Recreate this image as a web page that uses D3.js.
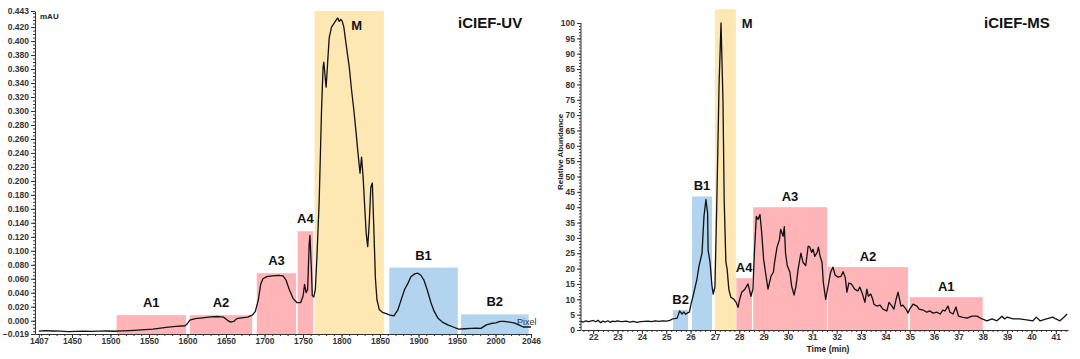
<!DOCTYPE html>
<html><head><meta charset="utf-8">
<script src="https://cdn.jsdelivr.net/npm/d3@7"></script>
<style>
body{margin:0;background:#fff;}
svg{display:block;font-family:"Liberation Sans",Arial,sans-serif;}
.tick text{font-size:8.5px;font-weight:bold;fill:#333;}
.domain,.tick line{stroke:#333;}
</style></head><body>
<svg id="c" width="1080" height="359"></svg>
<script>
// ---------- iCIEF-UV data ----------
const uvPixel = [1407,1415,1425,1435,1445,1455,1465,1475,1485,1495,1505,1515,1525,1535,1545,1555,1565,1575,1585,1597,1600,1603,1610,1620,1630,1640,1647,1652,1656,1660,1664,1670,1678,1684,1688,1692,1695,1698,1703,1710,1718,1724,1728,1732,1737,1742,1747,1750,1752,1754,1756,1758,1759,1761,1762,1764,1766,1768,1771,1774,1776,1777,1779,1780,1782,1784,1787,1790,1793,1795,1797,1799,1801,1803,1806,1810,1813,1816,1819,1821,1824,1826,1828,1830,1832,1834,1836,1838,1840,1842,1844,1846,1849,1853,1858,1863,1868,1873,1878,1882,1886,1890,1895,1899,1903,1907,1911,1916,1920,1925,1931,1938,1945,1952,1960,1968,1975,1981,1988,1994,2000,2006,2011,2018,2024,2030,2036,2046];
const uvAbs = [-0.0148,-0.0143,-0.0147,-0.0150,-0.0155,-0.0152,-0.0149,-0.0153,-0.0150,-0.0147,-0.0151,-0.0146,-0.0142,-0.0136,-0.0128,-0.0120,-0.0107,-0.0092,-0.0082,-0.0072,-0.0040,0.0010,0.0030,0.0042,0.0055,0.0060,0.0050,0.0005,-0.0020,-0.0010,0.0030,0.0040,0.0052,0.0080,0.0130,0.0300,0.0520,0.0600,0.0630,0.0640,0.0650,0.0640,0.0580,0.0450,0.0320,0.0260,0.0260,0.0350,0.0520,0.0400,0.0450,0.1100,0.1220,0.0700,0.0360,0.0340,0.0450,0.0900,0.1720,0.3000,0.3620,0.3700,0.3450,0.3340,0.3700,0.4050,0.4200,0.4250,0.4300,0.4330,0.4280,0.4310,0.4280,0.4200,0.3950,0.3630,0.3300,0.3010,0.2680,0.2440,0.2110,0.2340,0.2060,0.1650,0.1250,0.1060,0.1400,0.1910,0.1970,0.1300,0.0600,0.0300,0.0160,0.0120,0.0100,0.0080,0.0070,0.0150,0.0320,0.0450,0.0530,0.0630,0.0670,0.0680,0.0650,0.0580,0.0450,0.0260,0.0140,0.0040,-0.0020,-0.0060,-0.0090,-0.0120,-0.0115,-0.0110,-0.0105,-0.0110,-0.0060,-0.0040,-0.0030,-0.0010,-0.0010,-0.0020,-0.0030,-0.0060,-0.0090,-0.0090];
const uvRegionNames = ["A1","A2","A3","A4","M","B1","B2"];
const uvRegionStart = [1508,1603,1690,1743,1765,1862,1955];
const uvRegionEnd   = [1598,1684,1741,1763,1855,1951,2043];
const uvRegionTop   = [0.008,0.008,0.068,0.128,0.443,0.076,0.009];
const uvRegionType  = ["A","A","A","A","M","B","B"];
const uvYTicks = [0.443,0.420,0.400,0.380,0.360,0.340,0.320,0.300,0.280,0.260,0.240,0.220,0.200,0.180,0.160,0.140,0.120,0.100,0.080,0.060,0.040,0.020,0.000,-0.019];
const uvXTicks = [1407,1450,1500,1550,1600,1650,1700,1750,1800,1850,1900,1950,2000,2046];

// ---------- iCIEF-MS data ----------
const msTime = [21.5,21.6,21.7,21.8,21.9,22.0,22.1,22.2,22.3,22.4,22.5,22.6,22.7,22.8,22.9,23.0,23.1,23.2,23.35,23.5,23.65,23.8,23.95,24.1,24.25,24.4,24.55,24.7,24.85,25.0,25.15,25.25,25.35,25.45,25.55,25.65,25.72,25.8,25.88,25.95,26.02,26.1,26.26,26.35,26.47,26.55,26.63,26.7,26.72,26.8,26.88,26.93,27.0,27.08,27.17,27.25,27.33,27.38,27.45,27.5,27.57,27.65,27.78,27.87,27.95,28.0,28.1,28.23,28.36,28.48,28.56,28.62,28.7,28.77,28.85,28.92,29.0,29.1,29.18,29.3,29.4,29.45,29.55,29.65,29.7,29.8,29.85,29.9,29.97,30.08,30.15,30.25,30.33,30.42,30.53,30.62,30.73,30.83,30.9,30.97,31.03,31.1,31.2,31.25,31.32,31.4,31.45,31.55,31.6,31.75,31.85,31.93,32.05,32.18,32.26,32.35,32.42,32.5,32.6,32.74,32.87,32.95,33.06,33.16,33.24,33.3,33.4,33.48,33.53,33.65,33.78,33.9,34.06,34.15,34.27,34.35,34.44,34.52,34.64,34.72,34.85,34.93,35.0,35.14,35.3,35.38,35.55,35.7,35.83,35.96,36.12,36.25,36.36,36.45,36.57,36.65,36.78,36.9,37.0,37.15,37.35,37.56,37.76,37.97,38.17,38.38,38.58,38.79,38.9,39.0,39.24,39.5,39.8,40.06,40.2,40.35,40.62,40.87,41.0,41.17,41.34,41.46];
const msAbund = [2.8,2.6,3.0,2.7,2.9,3.1,2.7,3.2,2.4,2.9,2.6,3.0,2.5,2.9,2.7,3.0,2.8,2.7,2.9,2.6,2.8,2.5,2.7,2.8,2.9,2.7,3.0,2.8,3.0,2.9,3.1,3.6,3.7,3.9,6.2,5.2,5.9,5.1,5.6,5.8,8.5,11.0,16.5,21.0,25.0,37.0,42.5,38.0,26.0,22.0,14.3,11.7,14.0,42.5,80.0,100.0,75.0,42.5,22.0,20.0,13.3,10.7,10.0,9.0,7.4,9.5,12.3,13.3,15.0,11.0,13.3,25.0,37.0,36.0,37.6,31.8,23.0,17.5,13.3,17.5,18.8,22.0,27.0,29.5,32.8,30.5,33.7,25.0,21.0,18.8,14.3,11.4,14.3,20.0,25.0,22.0,21.0,27.3,27.0,25.3,26.3,24.0,25.3,27.0,24.0,22.0,15.6,10.0,12.3,18.8,20.5,18.0,17.2,17.5,19.0,17.2,12.3,15.3,15.0,13.3,12.7,14.0,11.7,9.0,13.3,11.0,11.7,10.0,8.4,7.8,8.1,6.8,6.2,9.0,7.8,6.8,10.0,12.3,7.8,8.1,6.8,5.5,6.8,8.4,7.8,6.8,6.5,5.8,6.2,5.5,5.8,5.2,6.5,6.2,7.8,5.8,5.2,7.5,4.5,4.2,3.9,4.5,4.5,3.6,3.0,3.6,3.0,4.5,3.6,4.2,3.6,3.6,3.3,3.0,4.2,3.0,3.6,4.2,3.6,3.0,4.2,5.2];
const msRegionNames = ["B2","B1","M","A4","A3","A2","A1"];
const msRegionStart = [25.28,26.06,27.0,27.88,28.57,31.64,35.0];
const msRegionEnd   = [25.9,26.88,27.86,28.52,31.6,34.93,38.0];
const msRegionTop   = [6.5,43.5,104.5,16.9,40.0,20.5,10.7];
const msRegionType  = ["B","B","M","A","A","A","A"];
const msYTicks = [0,5,10,15,20,25,30,35,40,45,50,55,60,65,70,75,80,85,90,95,100];
const msXTicks = [22,23,24,25,26,27,28,29,30,31,32,33,34,35,36,37,38,39,40,41];

const fillColor = {A:"#ffb5b7", M:"#fde8b3", B:"#b3d4ee"};

const svg = d3.select("#c");

// ================= LEFT: iCIEF-UV =================
const xL = d3.scaleLinear().domain([1402,2046]).range([35,531]);
const yL = d3.scaleLinear().domain([-0.019,0.443]).range([334,11]);
const gL = svg.append("g");

gL.selectAll("rect.reg").data(uvRegionNames).join("rect")
  .attr("x",(d,i)=>xL(uvRegionStart[i]))
  .attr("width",(d,i)=>xL(uvRegionEnd[i])-xL(uvRegionStart[i]))
  .attr("y",(d,i)=>yL(uvRegionTop[i]))
  .attr("height",(d,i)=>yL(-0.019)-yL(uvRegionTop[i]))
  .attr("fill",(d,i)=>fillColor[uvRegionType[i]]);

gL.selectAll("text.reg").data(uvRegionNames).join("text")
  .attr("x",(d,i)=>d==="M"? xL(uvRegionStart[i])+42 : (xL(uvRegionStart[i])+xL(uvRegionEnd[i]))/2)
  .attr("y",(d,i)=>d==="M"? 30 : yL(uvRegionTop[i])-8)
  .attr("text-anchor","middle").attr("font-size","13px").attr("font-weight","bold").attr("fill","#111")
  .text(d=>d);

// minor ticks
gL.append("g").attr("transform","translate(35,0)")
  .call(d3.axisLeft(yL).tickValues(d3.range(-0.015,0.4431,0.005)).tickSize(2).tickFormat(""))
  .call(g=>g.select(".domain").remove());
gL.append("g").attr("transform","translate(0,334)")
  .call(d3.axisBottom(xL).tickValues(d3.range(1410,2046,10)).tickSize(2).tickFormat(""))
  .call(g=>g.select(".domain").remove());
// major
gL.append("g").attr("transform","translate(35,0)")
  .call(d3.axisLeft(yL).tickValues(uvYTicks).tickSize(4).tickSizeOuter(0).tickPadding(2).tickFormat(d3.format(".3f")));
gL.append("g").attr("transform","translate(0,334)")
  .call(d3.axisBottom(xL).tickValues(uvXTicks).tickSize(4).tickSizeOuter(0).tickPadding(0).tickFormat(d3.format("d")));

gL.append("path").datum(uvPixel.map((p,i)=>[p,uvAbs[i]]))
  .attr("fill","none").attr("stroke","#111").attr("stroke-width",1.3).attr("stroke-linejoin","round")
  .attr("d",d3.line().x(d=>xL(d[0])).y(d=>yL(d[1])));

gL.append("text").attr("x",40).attr("y",19).attr("font-size","8px").attr("font-weight","bold").attr("fill","#222").text("mAU");
gL.append("text").attr("x",517).attr("y",325).attr("font-size","9px").attr("fill","#333").text("Pixel");
gL.append("text").attr("x",458).attr("y",28).attr("font-size","15px").attr("font-weight","bold").attr("fill","#111").text("iCIEF-UV");

// ================= RIGHT: iCIEF-MS =================
const xR = d3.scaleLinear().domain([21.5,41.5]).range([581,1068]);
const yR = d3.scaleLinear().domain([0,100]).range([330,23]);
const gR = svg.append("g");

gR.selectAll("rect.reg").data(msRegionNames).join("rect")
  .attr("x",(d,i)=>xR(msRegionStart[i]))
  .attr("width",(d,i)=>xR(msRegionEnd[i])-xR(msRegionStart[i]))
  .attr("y",(d,i)=>yR(msRegionTop[i]))
  .attr("height",(d,i)=>yR(0)-yR(msRegionTop[i]))
  .attr("fill",(d,i)=>fillColor[msRegionType[i]]);

gR.selectAll("text.reg").data(msRegionNames).join("text")
  .attr("x",(d,i)=>d==="M"? xR(msRegionEnd[i])+6 : (xR(msRegionStart[i])+xR(msRegionEnd[i]))/2)
  .attr("y",(d,i)=>d==="M"? 28 : yR(msRegionTop[i])-6)
  .attr("text-anchor",d=>d==="M"?"start":"middle").attr("font-size","13px").attr("font-weight","bold").attr("fill","#111")
  .text(d=>d);

gR.append("g").attr("transform","translate(581,0)")
  .call(d3.axisLeft(yR).tickValues(d3.range(0,101,1)).tickSize(2).tickFormat(""))
  .call(g=>g.select(".domain").remove());
gR.append("g").attr("transform","translate(0,330)")
  .call(d3.axisBottom(xR).tickValues(d3.range(21.6,41.5,0.2)).tickSize(2).tickFormat(""))
  .call(g=>g.select(".domain").remove());
gR.append("g").attr("transform","translate(581,0)")
  .call(d3.axisLeft(yR).tickValues(msYTicks).tickSize(4).tickSizeOuter(0).tickPadding(2).tickFormat(d3.format("d")))
  .call(g=>g.select(".domain").attr("d","M0,330V23"));
gR.append("g").attr("transform","translate(0,330)")
  .call(d3.axisBottom(xR).tickValues(msXTicks).tickSize(4).tickSizeOuter(0).tickPadding(0).tickFormat(d3.format("d")));

gR.append("path").datum(msTime.map((t,i)=>[t,msAbund[i]]))
  .attr("fill","none").attr("stroke","#111").attr("stroke-width",1.3).attr("stroke-linejoin","round")
  .attr("d",d3.line().x(d=>xR(d[0])).y(d=>yR(d[1])));

gR.append("text").attr("transform","translate(563,152) rotate(-90)").attr("text-anchor","middle")
  .attr("font-size","8px").attr("font-weight","bold").attr("fill","#222").text("Relative Abundance");
gR.append("text").attr("x",828).attr("y",352).attr("text-anchor","middle")
  .attr("font-size","8.5px").attr("font-weight","bold").attr("fill","#222").text("Time (min)");
gR.append("text").attr("x",984).attr("y",28).attr("font-size","15px").attr("font-weight","bold").attr("fill","#111").text("iCIEF-MS");
</script>
</body></html>
